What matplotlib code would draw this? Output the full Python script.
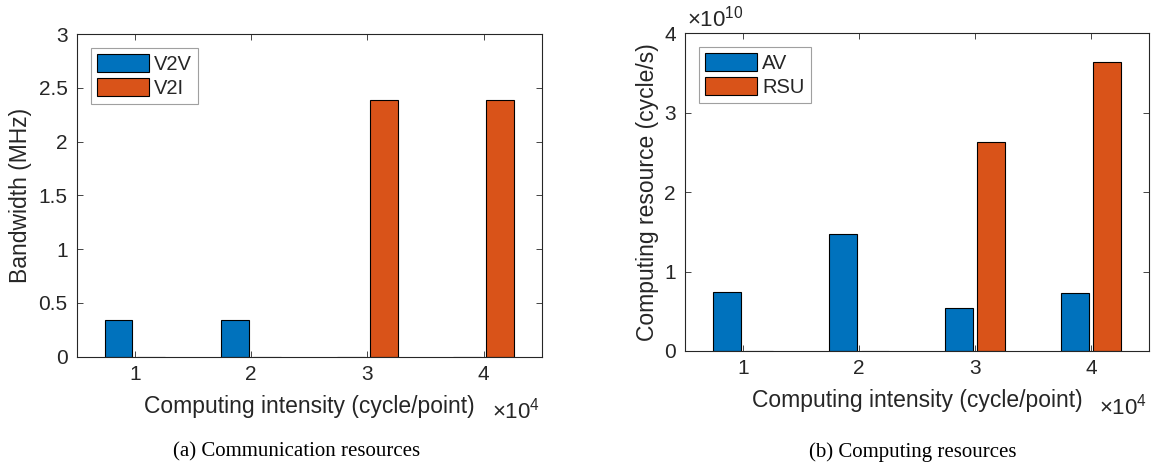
import matplotlib
matplotlib.use("Agg")
import matplotlib.pyplot as plt
import numpy as np

# ---- data ----
intensity = [10000, 20000, 30000, 40000]
tick_labels = ["1", "2", "3", "4"]
v2v_bw = [0.34, 0.34, 0.0, 0.0]
v2i_bw = [0.0, 0.0, 2.39, 2.39]
av_comp = [0.74e10, 1.467e10, 0.54e10, 0.73e10]
rsu_comp = [0.0, 0.0, 2.63e10, 3.64e10]

BLUE = "#0072BD"
ORANGE = "#D95319"
AXC = "#262626"
FONT = "Liberation Sans"

plt.rcParams['font.family'] = [FONT, 'DejaVu Sans']
plt.rcParams['mathtext.fontset'] = 'custom'
plt.rcParams['mathtext.rm'] = FONT

TICK = 15
LABEL = 16.5
LEG = 14.5

fig = plt.figure(figsize=(11.53, 4.68), dpi=100)
ax1 = fig.add_axes([0.0665, 0.2378, 0.4033, 0.6895])
ax2 = fig.add_axes([0.594, 0.2502, 0.4024, 0.6786])

x = np.array(intensity, dtype=float)
w = 2400.0
off = 1400.0


def style(ax, ydown):
    for s in ax.spines.values():
        s.set_color(AXC)
        s.set_linewidth(0.8)
    ax.tick_params(direction='in', top=True, right=True, colors=AXC,
                   labelsize=TICK, length=4, width=0.6)
    ax.tick_params(axis='y', pad=6.5)
    ax.tick_params(axis='x', pad=6)
    ax.set_xlim(5000, 45000)
    ax.set_xticks(intensity)
    ax.set_xticklabels(tick_labels)
    ax.set_xlabel("Computing intensity (cycle/point)", fontsize=LABEL,
                  color=AXC, labelpad=8)
    ax.text(0.997, ydown, r"$\times\mathregular{10^4}$", transform=ax.transAxes,
            fontsize=16, color=AXC, ha='right', va='center')


def legend(ax):
    leg = ax.legend(loc='upper left', bbox_to_anchor=(0.03, 0.957), fontsize=LEG,
                    handlelength=2.6, handleheight=1.0, fancybox=False,
                    edgecolor='#a0a0a0', framealpha=1, borderpad=0.3,
                    labelspacing=0.2, handletextpad=0.25, borderaxespad=0)
    leg.get_frame().set_linewidth(0.8)
    for t in leg.get_texts():
        t.set_color(AXC)


ax1.bar(x - off, v2v_bw, w, color=BLUE, edgecolor='black', linewidth=0.8, label="V2V")
ax1.bar(x + off, v2i_bw, w, color=ORANGE, edgecolor='black', linewidth=0.8, label="V2I")
style(ax1, -0.168)
ax1.set_ylim(0, 3)
ax1.set_yticks([0, 0.5, 1, 1.5, 2, 2.5, 3])
ax1.set_yticklabels(["0", "0.5", "1", "1.5", "2", "2.5", "3"])
ax1.set_ylabel("Bandwidth (MHz)", fontsize=LABEL, color=AXC, labelpad=5)
legend(ax1)

ax2.bar(x - off, av_comp, w, color=BLUE, edgecolor='black', linewidth=0.8, label="AV")
ax2.bar(x + off, rsu_comp, w, color=ORANGE, edgecolor='black', linewidth=0.8, label="RSU")
style(ax2, -0.175)
ax2.set_ylim(0, 4e10)
ax2.set_yticks([0, 1e10, 2e10, 3e10, 4e10])
ax2.set_yticklabels(["0", "1", "2", "3", "4"])
ax2.set_ylabel("Computing resource (cycle/s)", fontsize=LABEL, color=AXC, labelpad=4)
ax2.text(0.005, 1.045, r"$\times\mathregular{10^{10}}$", transform=ax2.transAxes,
         fontsize=16, color=AXC, ha='left', va='center')
legend(ax2)

fig.text(297 / 1153, 1 - 452 / 468, "(a) Communication resources",
         family="Liberation Serif", fontsize=15, ha='center', va='center', color='black')
fig.text(913 / 1153, 1 - 452 / 468, "(b) Computing resources",
         family="Liberation Serif", fontsize=15, ha='center', va='center', color='black')

fig.savefig("out.png", dpi=100, facecolor='white')
